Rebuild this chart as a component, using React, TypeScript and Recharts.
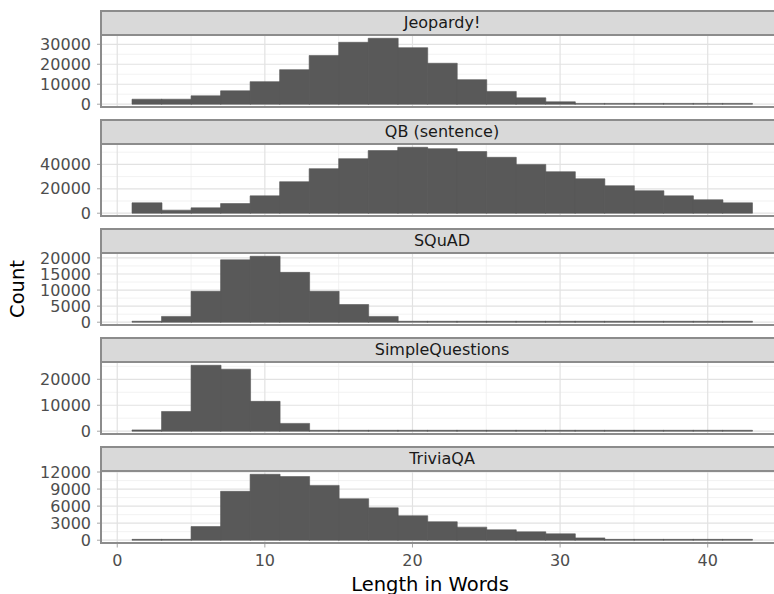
import React from 'react';
import { BarChart, Bar, XAxis, YAxis, CartesianGrid } from 'recharts';

// histogram bins: width 2, from 1 to 43
const binMids = [2, 4, 6, 8, 10, 12, 14, 16, 18, 20, 22, 24, 26, 28, 30, 32, 34, 36, 38, 40, 42];

const jeopardy = [2500, 2500, 4200, 6700, 11300, 17300, 24400, 31000, 33000, 28300, 20500, 12300, 6400, 3200, 1200, 400, 400, 400, 400, 400, 400];
const qbSentence = [8500, 2500, 4400, 7900, 14200, 25800, 36500, 44700, 51300, 54000, 52900, 50500, 45800, 40000, 34000, 28200, 22500, 18400, 14200, 11000, 8500];
const squad = [300, 1800, 9600, 19400, 20500, 15500, 9600, 5500, 1800, 300, 300, 300, 300, 300, 300, 300, 300, 300, 300, 300, 300];
const simpleQuestions = [500, 7600, 25400, 23900, 11500, 3000, 350, 350, 350, 350, 350, 350, 350, 350, 350, 350, 350, 350, 350, 350, 350];
const triviaQA = [150, 150, 2400, 8600, 11600, 11200, 9650, 7300, 5700, 4300, 3250, 2300, 1830, 1470, 1120, 410, 150, 150, 150, 150, 150];

const xTicks = [0, 10, 20, 30, 40];
const xMinor = [5, 15, 25, 35, 45];

const panels = [
  { name: 'Jeopardy!', counts: jeopardy, ticks: [0, 10000, 20000, 30000], minor: [5000, 15000, 25000] },
  { name: 'QB (sentence)', counts: qbSentence, ticks: [0, 20000, 40000], minor: [10000, 30000, 50000] },
  { name: 'SQuAD', counts: squad, ticks: [0, 5000, 10000, 15000, 20000], minor: [2500, 7500, 12500, 17500] },
  { name: 'SimpleQuestions', counts: simpleQuestions, ticks: [0, 10000, 20000], minor: [5000, 15000, 25000] },
  { name: 'TriviaQA', counts: triviaQA, ticks: [0, 3000, 6000, 9000, 12000], minor: [1500, 4500, 7500, 10500] },
];

const FONT = 'DejaVu Sans';
const PANEL_LEFT = 101;
const PANEL_W = 682;
const STRIP_H = 24.5;
const PLOT_H = 72.5;
const STEP = 109;
const TOP0 = 10;
const XAXIS_H = 30;
const PAD = 10;
const BORDER = '#8c8c8c';

function Panel({ idx }: { idx: number }) {
  const p = panels[idx];
  const last = idx === panels.length - 1;
  const stripTop = TOP0 + idx * STEP;
  const plotTop = stripTop + STRIP_H;
  const max = Math.max(...p.counts);
  const rows = binMids.map((mid, i) => ({ mid, count: p.counts[i] }));

  return (
    <>
      <div style={{ position: 'absolute', left: 0, top: plotTop - PAD }}>
        <BarChart
          width={PANEL_LEFT + PANEL_W}
          height={PLOT_H + 2 * PAD + (last ? XAXIS_H : 0)}
          data={rows}
          margin={{ top: PAD, right: 0, bottom: PAD, left: 0 }}
          barCategoryGap={0}
          barGap={0}
        >
          <CartesianGrid
            stroke="#efefef"
            strokeWidth={0.8}
            horizontalValues={p.minor}
            verticalValues={xMinor}
          />
          <CartesianGrid
            stroke="#e2e2e2"
            strokeWidth={1.2}
            horizontalValues={p.ticks}
            verticalValues={xTicks}
          />
          <XAxis
            type="number"
            dataKey="mid"
            domain={[-1.1, 45.1]}
            allowDataOverflow
            ticks={xTicks}
            interval={0}
            hide={!last}
            height={XAXIS_H}
            axisLine={false}
            tickSize={4}
            tickMargin={7}
            tickLine={{ stroke: '#a6a6a6' }}
            tick={{ fill: '#4d4d4d', fontSize: 16, fontFamily: FONT }}
          />
          <YAxis
            type="number"
            domain={[-0.05 * max, 1.05 * max]}
            allowDataOverflow
            ticks={p.ticks}
            interval={0}
            width={PANEL_LEFT}
            axisLine={false}
            tickSize={4}
            tickMargin={6}
            tickLine={{ stroke: '#a6a6a6' }}
            tick={{ fill: '#4d4d4d', fontSize: 16, fontFamily: FONT }}
          />
          <Bar
            dataKey="count"
            fill="#595959"
            stroke="#595959"
            strokeWidth={0.6}
            isAnimationActive={false}
          />
        </BarChart>
      </div>
      <div
        style={{
          position: 'absolute',
          left: PANEL_LEFT - 1,
          top: plotTop - 1,
          width: PANEL_W + 2,
          height: PLOT_H + 2,
          border: `2px solid ${BORDER}`,
          boxSizing: 'border-box',
          pointerEvents: 'none',
        }}
      />
      <div
        style={{
          position: 'absolute',
          left: PANEL_LEFT - 1,
          top: stripTop,
          width: PANEL_W + 2,
          height: STRIP_H + 1,
          background: '#d9d9d9',
          border: `2px solid ${BORDER}`,
          boxSizing: 'border-box',
          display: 'flex',
          alignItems: 'center',
          justifyContent: 'center',
          fontFamily: FONT,
          fontSize: 16,
          color: '#1a1a1a',
        }}
      >
        {p.name}
      </div>
    </>
  );
}

export default function App() {
  return (
    <div
      style={{
        position: 'fixed',
        left: 0,
        top: 0,
        width: 774,
        height: 594,
        overflow: 'hidden',
        background: '#ffffff',
        fontFamily: FONT,
      }}
    >
      {panels.map((_, i) => (
        <Panel key={i} idx={i} />
      ))}
      <div
        style={{
          position: 'absolute',
          left: 17.5 - 60,
          top: 289 - 12,
          width: 120,
          height: 24,
          transform: 'rotate(-90deg)',
          textAlign: 'center',
          fontSize: 19.5,
          lineHeight: '24px',
          color: '#000000',
        }}
      >
        Count
      </div>
      <div
        style={{
          position: 'absolute',
          left: 430 - 120,
          top: 573,
          width: 240,
          textAlign: 'center',
          fontSize: 19.5,
          lineHeight: '24px',
          color: '#000000',
        }}
      >
        Length in Words
      </div>
    </div>
  );
}
